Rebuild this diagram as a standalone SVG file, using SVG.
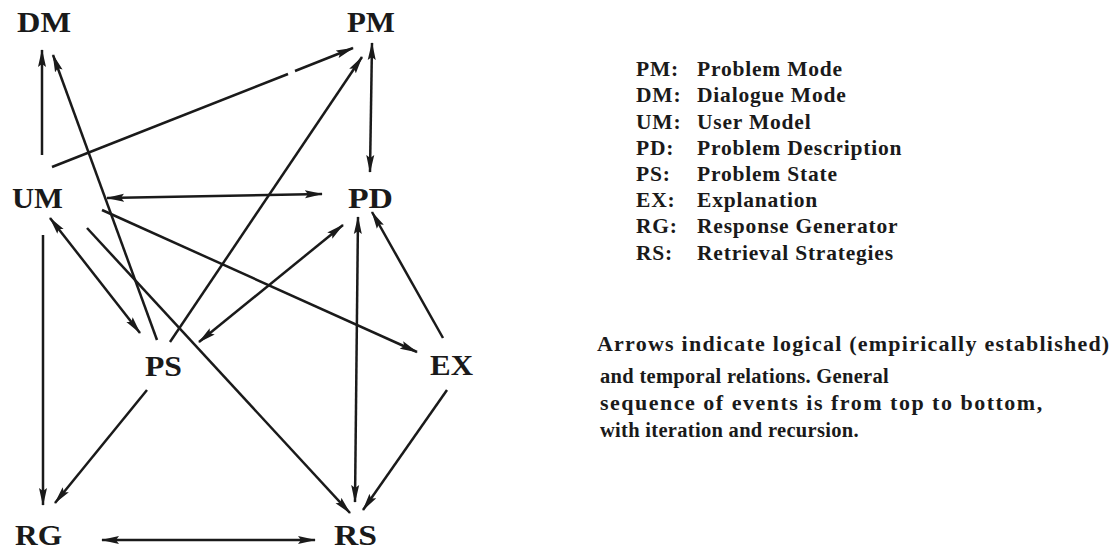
<svg xmlns="http://www.w3.org/2000/svg" width="1113" height="550" viewBox="0 0 1113 550">
<style>
.node{font-family:"Liberation Serif","Times New Roman",serif;font-weight:bold;font-size:30px;fill:#1a1a1a}
.leg{font-family:"Liberation Serif","Times New Roman",serif;font-weight:bold;font-size:21.5px;letter-spacing:0.8px;fill:#1a1a1a}
.big{font-size:22px}
.small{font-size:20.5px;letter-spacing:0.3px}
.c line{stroke:#1a1a1a;stroke-width:2.5;fill:none}
.e{marker-end:url(#ah)}
.b{marker-start:url(#ah);marker-end:url(#ah)}
</style>
<defs>
<marker id="ah" viewBox="0 0 18 9" refX="17" refY="4.5" markerWidth="18" markerHeight="9" markerUnits="userSpaceOnUse" orient="auto-start-reverse">
<path d="M0,0.5 L18,4.5 L0,8.5 L3,4.5 z" fill="#1a1a1a"/>
</marker>
</defs>
<rect width="1113" height="550" fill="#fff"/>
<g id="connectors" class="c">
<line class="e" x1="42" y1="155" x2="42" y2="50"/>
<line class="e" x1="157" y1="340" x2="53" y2="55"/>
<line x1="52" y1="167" x2="288" y2="74"/>
<line class="e" x1="295" y1="71" x2="353" y2="48"/>
<line class="e" x1="170" y1="342" x2="362" y2="57"/>
<line class="b" x1="372" y1="43" x2="370" y2="172"/>
<line class="b" x1="107" y1="198" x2="322" y2="194"/>
<line class="e" x1="102" y1="210" x2="417" y2="352"/>
<line class="b" x1="50" y1="218" x2="140" y2="333"/>
<line class="e" x1="87" y1="228" x2="350" y2="513"/>
<line class="e" x1="43" y1="235" x2="43" y2="505"/>
<line class="b" x1="343" y1="225" x2="199" y2="342"/>
<line class="b" x1="358" y1="217" x2="355" y2="502"/>
<line class="e" x1="443" y1="338" x2="372" y2="212"/>
<line class="e" x1="447" y1="390" x2="363" y2="510"/>
<line class="e" x1="147" y1="390" x2="55" y2="503"/>
<line class="b" x1="102" y1="540" x2="315" y2="540"/>
</g>
<g id="DM"><text class="node" x="17" y="32" textLength="54" lengthAdjust="spacingAndGlyphs">DM</text></g>
<g id="PM"><text class="node" x="347" y="32" textLength="48" lengthAdjust="spacingAndGlyphs">PM</text></g>
<g id="UM"><text class="node" x="12" y="208" textLength="51" lengthAdjust="spacingAndGlyphs">UM</text></g>
<g id="PD"><text class="node" x="348" y="208" textLength="45" lengthAdjust="spacingAndGlyphs">PD</text></g>
<g id="PS"><text class="node" x="145" y="376" textLength="37" lengthAdjust="spacingAndGlyphs">PS</text></g>
<g id="EX"><text class="node" x="430" y="375" textLength="43" lengthAdjust="spacingAndGlyphs">EX</text></g>
<g id="RG"><text class="node" x="15" y="545" textLength="47" lengthAdjust="spacingAndGlyphs">RG</text></g>
<g id="RS"><text class="node" x="334" y="545" textLength="43" lengthAdjust="spacingAndGlyphs">RS</text></g>
<g id="legend" class="leg">
<text x="636" y="76">PM:</text><text x="697" y="76">Problem Mode</text>
<text x="636" y="102">DM:</text><text x="697" y="102">Dialogue Mode</text>
<text x="636" y="129">UM:</text><text x="697" y="129">User Model</text>
<text x="636" y="155">PD:</text><text x="697" y="155">Problem Description</text>
<text x="636" y="181">PS:</text><text x="697" y="181">Problem State</text>
<text x="636" y="207">EX:</text><text x="697" y="207">Explanation</text>
<text x="636" y="233">RG:</text><text x="697" y="233">Response Generator</text>
<text x="636" y="260">RS:</text><text x="697" y="260">Retrieval Strategies</text>
</g>
<g id="note" class="leg">
<text class="big" x="597" y="351" textLength="513">Arrows indicate logical (empirically established)</text>
<text class="small" x="600" y="383">and temporal relations. General</text>
<text class="big" x="600" y="410" textLength="443">sequence of events is from top to bottom,</text>
<text class="small" x="600" y="437">with iteration and recursion.</text>
</g>
</svg>
